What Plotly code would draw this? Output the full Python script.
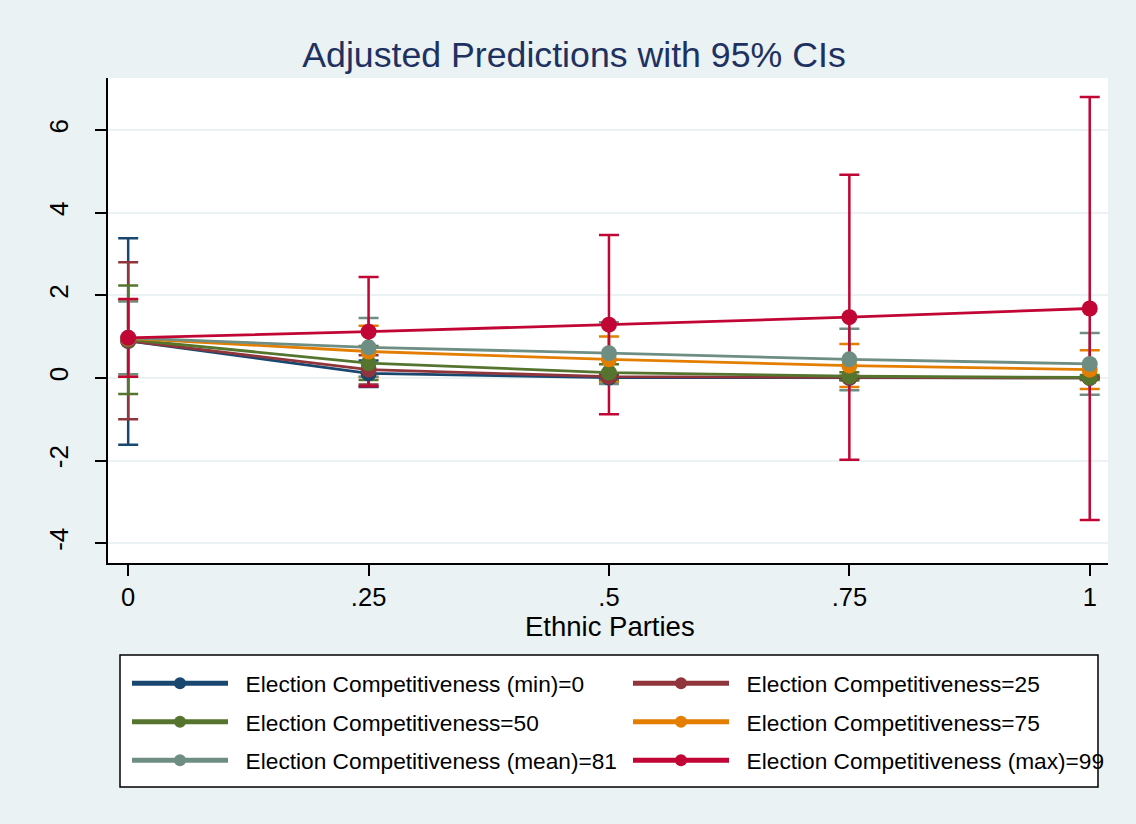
import plotly.graph_objects as go

x_vals = [0, 0.25, 0.5, 0.75, 1]
x_ticklabels = ["0", ".25", ".5", ".75", "1"]
y_tickvals = [-4, -2, 0, 2, 4, 6]
y_ticklabels = ["-4", "-2", "0", "2", "4", "6"]

series_names = [
    "Election Competitiveness (min)=0",
    "Election Competitiveness=25",
    "Election Competitiveness=50",
    "Election Competitiveness=75",
    "Election Competitiveness (mean)=81",
    "Election Competitiveness (max)=99",
]
colors = ["#1a476f", "#90353b", "#55752f", "#e37e00", "#6e8e84", "#c10534"]

pred_min = [0.90, 0.11, 0.01, 0.00, 0.00]
lo_min = [-1.62, -0.22, -0.05, -0.03, -0.02]
hi_min = [3.38, 0.42, 0.07, 0.03, 0.02]

pred_25 = [0.90, 0.20, 0.03, 0.01, 0.00]
lo_25 = [-1.00, -0.16, -0.05, -0.03, -0.02]
hi_25 = [2.80, 0.55, 0.11, 0.05, 0.02]

pred_50 = [0.93, 0.36, 0.13, 0.04, 0.01]
lo_50 = [-0.39, -0.05, -0.07, -0.06, -0.05]
hi_50 = [2.24, 0.77, 0.33, 0.14, 0.07]

pred_75 = [0.96, 0.64, 0.45, 0.30, 0.20]
lo_75 = [0.03, 0.02, -0.10, -0.22, -0.27]
hi_75 = [1.89, 1.26, 1.00, 0.82, 0.67]

pred_81 = [0.97, 0.74, 0.60, 0.45, 0.34]
lo_81 = [0.09, 0.03, -0.15, -0.30, -0.41]
hi_81 = [1.85, 1.45, 1.35, 1.19, 1.09]

pred_99 = [0.97, 1.12, 1.29, 1.47, 1.68]
lo_99 = [0.03, -0.20, -0.88, -1.98, -3.44]
hi_99 = [1.91, 2.44, 3.46, 4.92, 6.80]

preds = [pred_min, pred_25, pred_50, pred_75, pred_81, pred_99]
los = [lo_min, lo_25, lo_50, lo_75, lo_81, lo_99]
his = [hi_min, hi_25, hi_50, hi_75, hi_81, hi_99]

FONT = "Liberation Sans, Arial, sans-serif"
W, H = 1136, 824
BG = "#eaf2f3"

fig = go.Figure()

# CI caps first (as Stata draws rcap before lines)
for name, c, p, lo, hi in zip(series_names, colors, preds, los, his):
    fig.add_trace(go.Scatter(
        x=x_vals, y=p, mode="markers",
        marker=dict(size=1, color="rgba(0,0,0,0)"),
        error_y=dict(type="data", symmetric=False,
                     array=[h - v for h, v in zip(hi, p)],
                     arrayminus=[v - l for v, l in zip(p, lo)],
                     color=c, thickness=2.5, width=10),
        showlegend=False, hoverinfo="skip",
    ))

for i, (name, c, p) in enumerate(zip(series_names, colors, preds)):
    fig.add_trace(go.Scatter(
        x=x_vals, y=p, mode="lines+markers", name="\u00a0\u00a0" + name,
        line=dict(color=c, width=2.8),
        marker=dict(color=c, size=16),
        legend="legend" if i % 2 == 0 else "legend2",
        legendgroup="g%d" % i,
    ))

# legend frame
L, T, R, B = 108, 78, 1108, 563
pw, ph = R - L, B - T
def px2x(px):
    return (px - L) / pw
def py2y(py):
    return (B - py) / ph

fig.add_shape(type="rect", xref="paper", yref="paper",
              x0=px2x(120), x1=px2x(1098), y0=py2y(655), y1=py2y(787),
              fillcolor="white", line=dict(color="black", width=1.5), layer="below")

fig.add_annotation(text="Ethnic Parties", xref="paper", yref="paper",
                   x=px2x(610), y=py2y(626), xanchor="center", yanchor="middle",
                   showarrow=False, font=dict(family=FONT, size=27.5, color="black"))

legend_common = dict(
    xref="container", yref="container", yanchor="top", xanchor="left",
    bgcolor="rgba(0,0,0,0)", borderwidth=0,
    font=dict(family=FONT, size=22.7, color="black"),
    itemwidth=96, tracegroupgap=6, orientation="v", itemsizing="constant",
)

fig.update_layout(
    width=W, height=H,
    paper_bgcolor=BG, plot_bgcolor="white",
    margin=dict(l=L, r=W - R, t=T, b=H - B, autoexpand=False),
    title=dict(text="Adjusted Predictions with 95% CIs", x=574 / W, xref="container",
               xanchor="center", y=1 - 55 / H, yref="container", yanchor="middle",
               font=dict(family=FONT, size=35.7, color="#1e3160")),
    xaxis=dict(range=[-0.021, 1.019], tickvals=x_vals, ticktext=x_ticklabels,
               showgrid=False, zeroline=False, showline=True, linecolor="black", linewidth=1.5,
               ticks="outside", ticklen=11, tickwidth=1.5, tickcolor="black",
               tickfont=dict(family=FONT, size=25.5, color="black")),
    yaxis=dict(range=[-4.48, 7.26], tickvals=y_tickvals, ticktext=y_ticklabels, tickangle=-90,
               showgrid=True, gridcolor=BG, gridwidth=2, zeroline=False,
               showline=True, linecolor="black", linewidth=1.5,
               ticks="outside", ticklen=11, tickwidth=1.5, tickcolor="black",
               ticklabelstandoff=17,
               tickfont=dict(family=FONT, size=26, color="black")),
    legend=dict(x=127 / W, y=1 - 662 / H, **legend_common),
    legend2=dict(x=628 / W, y=1 - 662 / H, **legend_common),
    showlegend=True,
)

fig.write_html("out.html", config={"displayModeBar": False},
               post_script="document.body.style.margin='0px';")
